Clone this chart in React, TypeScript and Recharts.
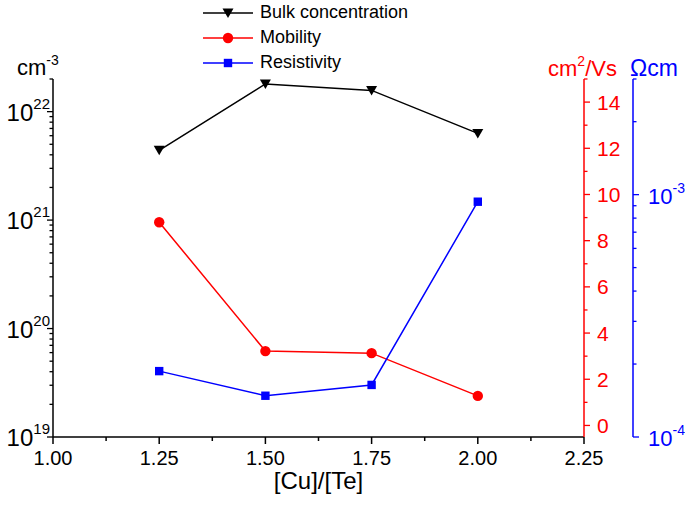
import { LineChart, Line, XAxis, YAxis } from "recharts";

const FONT = "'Liberation Sans', Arial, Helvetica, sans-serif";

// measured values
const cuTe = [1.25, 1.5, 1.75, 2.0];
const bulkConcentration = [4.4e21, 1.8e22, 1.57e22, 6.3e21];
const mobility = [8.8, 3.22, 3.13, 1.28];
const resistivity = [1.87e-4, 1.48e-4, 1.64e-4, 9.35e-4];

// axis ticks
const xTicks = [1.0, 1.125, 1.25, 1.375, 1.5, 1.625, 1.75, 1.875, 2.0, 2.125, 2.25];
const concDecades = [1e19, 1e20, 1e21];
const concTicks = [...concDecades.flatMap((d) => [1, 2, 3, 4, 5, 6, 7, 8, 9].map((m) => m * d)), 1e22, 2e22];
const mobilityTicks = [0, 1, 2, 3, 4, 5, 6, 7, 8, 9, 10, 11, 12, 13, 14, 15];
const resTicks = [1e-4, 2e-4, 3e-4, 4e-4, 5e-4, 6e-4, 7e-4, 8e-4, 9e-4, 1e-3, 2e-3, 3e-3];

const data = cuTe.map((x, i) => ({
  x,
  bulk: bulkConcentration[i],
  mobility: mobility[i],
  resistivity: resistivity[i],
}));

const isDecade = (v: number) => {
  const e = Math.log10(v);
  return Math.abs(e - Math.round(e)) < 1e-6;
};

const DownTriangle = ({ cx, cy, color }: any) => (
  <path d={`M${cx - 5.5},${cy - 4.5}L${cx + 5.5},${cy - 4.5}L${cx},${cy + 5}Z`} fill={color} />
);
const Circle = ({ cx, cy, color }: any) => <circle cx={cx} cy={cy} r={5.2} fill={color} />;
const Square = ({ cx, cy, color }: any) => (
  <rect x={cx - 4.2} y={cy - 4.2} width={8.4} height={8.4} fill={color} />
);

const XTick = (p: any) => {
  const { x, y, payload } = p;
  const v = payload.value;
  const major = Math.abs(v * 4 - Math.round(v * 4)) < 1e-6;
  return (
    <g>
      <line x1={x} x2={x} y1={y} y2={y + (major ? 7 : 4)} stroke="#000" strokeWidth={1.5} />
      {major && (
        <text x={x} y={y + 28} textAnchor="middle" fontSize={20} fontFamily={FONT} fill="#000">
          {v.toFixed(2)}
        </text>
      )}
    </g>
  );
};

const ConcTick = (p: any) => {
  const { x, y, payload } = p;
  const v = payload.value;
  const major = isDecade(v);
  return (
    <g>
      <line x1={x} x2={x - (major ? 6 : 3.5)} y1={y} y2={y} stroke="#000" strokeWidth={1.3} />
      {major && (
        <text x={x - 3} y={y + 9} textAnchor="end" fontSize={24} fontFamily={FONT} fill="#000">
          10
          <tspan dy={-12} fontSize={15}>
            {Math.round(Math.log10(v))}
          </tspan>
        </text>
      )}
    </g>
  );
};

const MobilityTick = (p: any) => {
  const { x, y, payload } = p;
  const v = payload.value;
  const major = v % 2 === 0;
  return (
    <g>
      <line x1={x} x2={x + (major ? 6 : 3.5)} y1={y} y2={y} stroke="#ff0000" strokeWidth={1.3} />
      {major && (
        <text x={x + 13} y={y + 7.5} textAnchor="start" fontSize={21} fontFamily={FONT} fill="#ff0000">
          {v}
        </text>
      )}
    </g>
  );
};

const ResTick = (p: any) => {
  const { x, y, payload } = p;
  const v = payload.value;
  const major = isDecade(v);
  return (
    <g>
      <line x1={x} x2={x + (major ? 6 : 3.5)} y1={y} y2={y} stroke="#0000ff" strokeWidth={1.3} />
      {major && (
        <text x={x + 15} y={y + 9} textAnchor="start" fontSize={22} fontFamily={FONT} fill="#0000ff">
          10
          <tspan dy={-11} fontSize={14}>
            {Math.round(Math.log10(v))}
          </tspan>
        </text>
      )}
    </g>
  );
};

const legendItems = [
  { name: "Bulk concentration", color: "#000000", marker: "triangle" },
  { name: "Mobility", color: "#ff0000", marker: "circle" },
  { name: "Resistivity", color: "#0000ff", marker: "square" },
];

const LegendBox = () => (
  <div style={{ position: "absolute", left: 203, top: 0, fontFamily: FONT, fontSize: 18 }}>
    {legendItems.map((it) => (
      <div key={it.name} style={{ display: "flex", alignItems: "center", height: 25 }}>
        <svg width={52} height={14} style={{ marginRight: 5 }}>
          <line x1={0} x2={50} y1={7} y2={7} stroke={it.color} strokeWidth={1.5} />
          {it.marker === "triangle" && <DownTriangle cx={25} cy={7} color={it.color} />}
          {it.marker === "circle" && <Circle cx={25} cy={7} color={it.color} />}
          {it.marker === "square" && <Square cx={25} cy={7} color={it.color} />}
        </svg>
        <span style={{ color: "#000" }}>{it.name}</span>
      </div>
    ))}
  </div>
);

export default function App() {
  return (
    <div style={{ position: "absolute", left: 0, top: 0, width: 685, height: 506, background: "#fff" }}>
      <LineChart width={685} height={506} data={data} margin={{ top: 79, right: 0, bottom: 0, left: 0 }}>
        <XAxis
          dataKey="x"
          type="number"
          domain={[1, 2.25]}
          allowDataOverflow
          ticks={xTicks}
          interval={0}
          tickSize={0}
          tickMargin={0}
          tickLine={false}
          tick={<XTick />}
          height={69}
          axisLine={{ stroke: "#000", strokeWidth: 1.5 }}
          label={{
            value: "[Cu]/[Te]",
            position: "insideBottom",
            offset: 17,
            fontSize: 24,
            fill: "#000",
            fontFamily: FONT,
          }}
        />
        <YAxis
          yAxisId="conc"
          orientation="left"
          scale="log"
          domain={[1e19, 2e22]}
          allowDataOverflow
          ticks={concTicks}
          interval={0}
          tickSize={0}
          tickMargin={0}
          tickLine={false}
          tick={<ConcTick />}
          width={53}
          axisLine={{ stroke: "#000", strokeWidth: 1.5 }}
          label={{
            content: (p: any) => {
              const vb = p.viewBox ?? { x: 0, y: 79 };
              return (
                <text x={vb.x + 17} y={vb.y - 4} fontSize={22} fontFamily={FONT} fill="#000">
                  cm
                  <tspan dy={-10} fontSize={14}>
                    -3
                  </tspan>
                </text>
              );
            },
          }}
        />
        <YAxis
          yAxisId="mob"
          orientation="right"
          domain={[-0.5, 15]}
          allowDataOverflow
          ticks={mobilityTicks}
          interval={0}
          tickSize={0}
          tickMargin={0}
          tickLine={false}
          tick={<MobilityTick />}
          width={49}
          axisLine={{ stroke: "#ff0000", strokeWidth: 1.5 }}
          label={{
            content: (p: any) => {
              const vb = p.viewBox ?? { x: 584, y: 79 };
              return (
                <text x={vb.x - 36} y={vb.y - 3} fontSize={22} fontFamily={FONT} fill="#ff0000">
                  cm
                  <tspan dy={-10} fontSize={14}>
                    2
                  </tspan>
                  <tspan dy={10}>/Vs</tspan>
                </text>
              );
            },
          }}
        />
        <YAxis
          yAxisId="res"
          orientation="right"
          scale="log"
          domain={[1e-4, 3e-3]}
          allowDataOverflow
          ticks={resTicks}
          interval={0}
          tickSize={0}
          tickMargin={0}
          tickLine={false}
          tick={<ResTick />}
          width={52}
          axisLine={{ stroke: "#0000ff", strokeWidth: 1.5 }}
          label={{
            content: (p: any) => {
              const vb = p.viewBox ?? { x: 633, y: 79 };
              return (
                <text x={vb.x - 3} y={vb.y - 3} fontSize={23} fontFamily={FONT} fill="#0000ff">
                  Ωcm
                </text>
              );
            },
          }}
        />
        <Line
          yAxisId="conc"
          dataKey="bulk"
          stroke="#000000"
          strokeWidth={1.5}
          isAnimationActive={false}
          activeDot={false}
          dot={(p: any) => <DownTriangle key={`b${p.index}`} cx={p.cx} cy={p.cy} color="#000000" />}
        />
        <Line
          yAxisId="mob"
          dataKey="mobility"
          stroke="#ff0000"
          strokeWidth={1.5}
          isAnimationActive={false}
          activeDot={false}
          dot={(p: any) => <Circle key={`m${p.index}`} cx={p.cx} cy={p.cy} color="#ff0000" />}
        />
        <Line
          yAxisId="res"
          dataKey="resistivity"
          stroke="#0000ff"
          strokeWidth={1.5}
          isAnimationActive={false}
          activeDot={false}
          dot={(p: any) => <Square key={`r${p.index}`} cx={p.cx} cy={p.cy} color="#0000ff" />}
        />
      </LineChart>
      <LegendBox />
    </div>
  );
}
